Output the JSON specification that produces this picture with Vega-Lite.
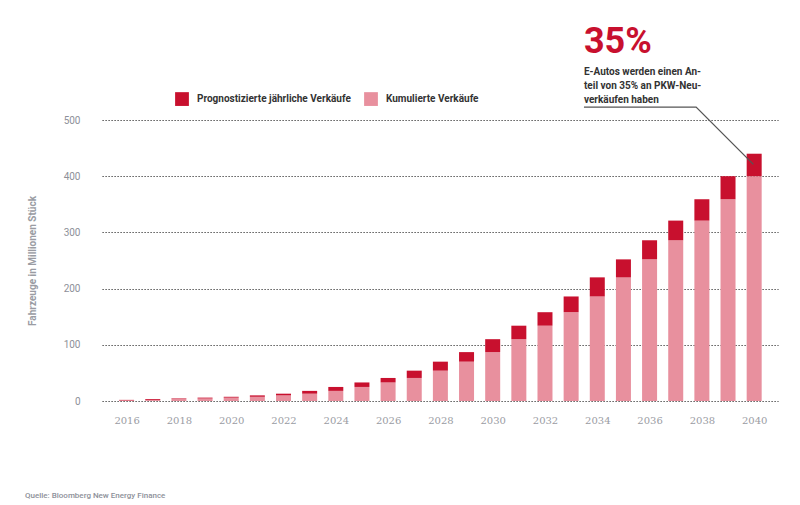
{
  "$schema": "https://vega.github.io/schema/vega-lite/v6.json",
  "width": 676,
  "height": 281,
  "autosize": {"type": "none"},
  "padding": {"left": 102, "top": 120, "right": 22, "bottom": 104},
  "config": {
    "view": {"stroke": null},
    "font": "Roboto, sans-serif"
  },
  "title": {
    "text": "Quelle: Bloomberg New Energy Finance",
    "orient": "bottom",
    "anchor": "start",
    "frame": "group",
    "dx": -77,
    "offset": 67,
    "fontSize": 8,
    "fontWeight": 500,
    "color": "#8d9099"
  },
  "layer": [
    {
      "data": {
        "values": [
          {"Jahr": 2016, "Serie": "Kumulierte Verkäufe", "Wert": 1},
          {"Jahr": 2016, "Serie": "Prognostizierte jährliche Verkäufe", "Wert": 1},
          {"Jahr": 2017, "Serie": "Kumulierte Verkäufe", "Wert": 2},
          {"Jahr": 2017, "Serie": "Prognostizierte jährliche Verkäufe", "Wert": 1.5},
          {"Jahr": 2018, "Serie": "Kumulierte Verkäufe", "Wert": 3.5},
          {"Jahr": 2018, "Serie": "Prognostizierte jährliche Verkäufe", "Wert": 1},
          {"Jahr": 2019, "Serie": "Kumulierte Verkäufe", "Wert": 4.5},
          {"Jahr": 2019, "Serie": "Prognostizierte jährliche Verkäufe", "Wert": 1.5},
          {"Jahr": 2020, "Serie": "Kumulierte Verkäufe", "Wert": 6},
          {"Jahr": 2020, "Serie": "Prognostizierte jährliche Verkäufe", "Wert": 1.5},
          {"Jahr": 2021, "Serie": "Kumulierte Verkäufe", "Wert": 7.5},
          {"Jahr": 2021, "Serie": "Prognostizierte jährliche Verkäufe", "Wert": 2.5},
          {"Jahr": 2022, "Serie": "Kumulierte Verkäufe", "Wert": 10},
          {"Jahr": 2022, "Serie": "Prognostizierte jährliche Verkäufe", "Wert": 3},
          {"Jahr": 2023, "Serie": "Kumulierte Verkäufe", "Wert": 13},
          {"Jahr": 2023, "Serie": "Prognostizierte jährliche Verkäufe", "Wert": 5},
          {"Jahr": 2024, "Serie": "Kumulierte Verkäufe", "Wert": 18},
          {"Jahr": 2024, "Serie": "Prognostizierte jährliche Verkäufe", "Wert": 7},
          {"Jahr": 2025, "Serie": "Kumulierte Verkäufe", "Wert": 25},
          {"Jahr": 2025, "Serie": "Prognostizierte jährliche Verkäufe", "Wert": 8},
          {"Jahr": 2026, "Serie": "Kumulierte Verkäufe", "Wert": 33},
          {"Jahr": 2026, "Serie": "Prognostizierte jährliche Verkäufe", "Wert": 8},
          {"Jahr": 2027, "Serie": "Kumulierte Verkäufe", "Wert": 41},
          {"Jahr": 2027, "Serie": "Prognostizierte jährliche Verkäufe", "Wert": 13},
          {"Jahr": 2028, "Serie": "Kumulierte Verkäufe", "Wert": 54},
          {"Jahr": 2028, "Serie": "Prognostizierte jährliche Verkäufe", "Wert": 16},
          {"Jahr": 2029, "Serie": "Kumulierte Verkäufe", "Wert": 70},
          {"Jahr": 2029, "Serie": "Prognostizierte jährliche Verkäufe", "Wert": 17},
          {"Jahr": 2030, "Serie": "Kumulierte Verkäufe", "Wert": 87},
          {"Jahr": 2030, "Serie": "Prognostizierte jährliche Verkäufe", "Wert": 23},
          {"Jahr": 2031, "Serie": "Kumulierte Verkäufe", "Wert": 110},
          {"Jahr": 2031, "Serie": "Prognostizierte jährliche Verkäufe", "Wert": 24},
          {"Jahr": 2032, "Serie": "Kumulierte Verkäufe", "Wert": 134},
          {"Jahr": 2032, "Serie": "Prognostizierte jährliche Verkäufe", "Wert": 24},
          {"Jahr": 2033, "Serie": "Kumulierte Verkäufe", "Wert": 158},
          {"Jahr": 2033, "Serie": "Prognostizierte jährliche Verkäufe", "Wert": 28},
          {"Jahr": 2034, "Serie": "Kumulierte Verkäufe", "Wert": 186},
          {"Jahr": 2034, "Serie": "Prognostizierte jährliche Verkäufe", "Wert": 34},
          {"Jahr": 2035, "Serie": "Kumulierte Verkäufe", "Wert": 220},
          {"Jahr": 2035, "Serie": "Prognostizierte jährliche Verkäufe", "Wert": 32},
          {"Jahr": 2036, "Serie": "Kumulierte Verkäufe", "Wert": 252},
          {"Jahr": 2036, "Serie": "Prognostizierte jährliche Verkäufe", "Wert": 34},
          {"Jahr": 2037, "Serie": "Kumulierte Verkäufe", "Wert": 286},
          {"Jahr": 2037, "Serie": "Prognostizierte jährliche Verkäufe", "Wert": 35},
          {"Jahr": 2038, "Serie": "Kumulierte Verkäufe", "Wert": 321},
          {"Jahr": 2038, "Serie": "Prognostizierte jährliche Verkäufe", "Wert": 38},
          {"Jahr": 2039, "Serie": "Kumulierte Verkäufe", "Wert": 359},
          {"Jahr": 2039, "Serie": "Prognostizierte jährliche Verkäufe", "Wert": 41},
          {"Jahr": 2040, "Serie": "Kumulierte Verkäufe", "Wert": 400},
          {"Jahr": 2040, "Serie": "Prognostizierte jährliche Verkäufe", "Wert": 40}
        ]
      },
      "mark": {"type": "bar", "width": 15},
      "encoding": {
        "x": {
          "field": "Jahr",
          "type": "quantitative",
          "scale": {"domain": [2015.25, 2040.72], "nice": false, "zero": false},
          "axis": {
            "title": null,
            "values": [2016, 2018, 2020, 2022, 2024, 2026, 2028, 2030, 2032, 2034, 2036, 2038, 2040],
            "format": "d",
            "grid": false,
            "domain": false,
            "ticks": false,
            "labelPadding": 14,
            "labelFontSize": 10,
            "labelColor": "#9a9ca3",
            "labelFont": "DejaVu Serif"
          }
        },
        "y": {
          "field": "Wert",
          "type": "quantitative",
          "stack": "zero",
          "scale": {"domain": [0, 500], "nice": false},
          "axis": {
            "title": "Fahrzeuge in Millionen Stück",
            "values": [0, 100, 200, 300, 400, 500],
            "grid": true,
            "gridDash": [1.2, 1.8],
            "gridColor": "#333",
            "gridWidth": 1.2,
            "domain": false,
            "ticks": false,
            "labelPadding": 22,
            "labelFontSize": 10,
            "labelColor": "#8d9099",
            "titleFontSize": 10,
            "titleFontWeight": "bold",
            "titleColor": "#9a9ca3",
            "titlePadding": 26
          }
        },
        "color": {
          "field": "Serie",
          "type": "nominal",
          "scale": {
            "domain": ["Prognostizierte jährliche Verkäufe", "Kumulierte Verkäufe"],
            "range": ["#c8102e", "#e8909e"]
          },
          "legend": {
            "orient": "none",
            "legendX": 73,
            "legendY": -28,
            "direction": "horizontal",
            "title": null,
            "symbolType": "square",
            "symbolSize": 190,
            "symbolStrokeWidth": 0,
            "labelFontSize": 10,
            "labelFontWeight": "bold",
            "labelColor": "#333",
            "labelOffset": 8,
            "labelLimit": 0,
            "columnPadding": 13
          }
        },
        "order": {"field": "Serie", "sort": "ascending"}
      }
    },
    {
      "data": {
        "values": [
          {"Jahr": 2033.49, "Wert": 523},
          {"Jahr": 2037.78, "Wert": 523},
          {"Jahr": 2039.97, "Wert": 421}
        ]
      },
      "mark": {"type": "line", "color": "#555", "strokeWidth": 1.3},
      "encoding": {
        "x": {"field": "Jahr", "type": "quantitative"},
        "y": {"field": "Wert", "type": "quantitative"}
      }
    },
    {
      "data": {"values": [{"Jahr": 2033.49, "Wert": 619, "Text": "35%"}]},
      "mark": {
        "type": "text",
        "align": "left",
        "baseline": "alphabetic",
        "fontSize": 36,
        "fontWeight": "bold",
        "color": "#c8102e"
      },
      "encoding": {
        "x": {"field": "Jahr", "type": "quantitative"},
        "y": {"field": "Wert", "type": "quantitative"},
        "text": {"field": "Text"}
      }
    },
    {
      "data": {"values": [{"Jahr": 2033.49, "Wert": 594, "Text": "E-Autos werden einen An-\nteil von 35% an PKW-Neu-\nverkäufen haben"}]},
      "mark": {
        "type": "text",
        "align": "left",
        "baseline": "top",
        "lineBreak": "\n",
        "lineHeight": 14,
        "fontSize": 10,
        "fontWeight": "bold",
        "color": "#333"
      },
      "encoding": {
        "x": {"field": "Jahr", "type": "quantitative"},
        "y": {"field": "Wert", "type": "quantitative"},
        "text": {"field": "Text"}
      }
    }
  ]
}
